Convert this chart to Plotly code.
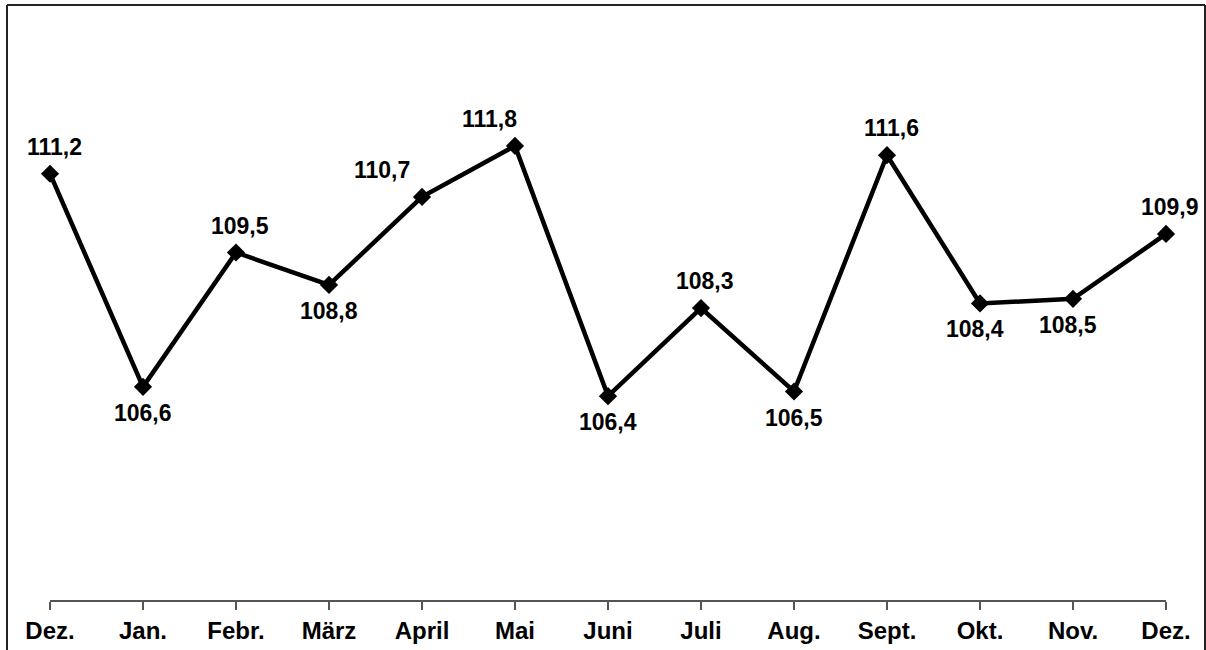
import plotly.graph_objects as go

months = ["Dez.", "Jan.", "Febr.", "März", "April", "Mai", "Juni", "Juli", "Aug.", "Sept.", "Okt.", "Nov.", "Dez."]
values = [111.2, 106.6, 109.5, 108.8, 110.7, 111.8, 106.4, 108.3, 106.5, 111.6, 108.4, 108.5, 109.9]
label_pos = ["top", "bottom", "top", "bottom", "topleft", "topleftish", "bottom", "top", "bottom", "top", "bottomleft", "bottomleft", "top"]

x = list(range(len(months)))

W, H = 1206, 650
ml, mr, mt, mb = 50, 40, 44, 50
pw, ph = W - ml - mr, H - mt - mb

fig = go.Figure()
fig.add_trace(go.Scatter(
    x=x, y=values, mode="lines+markers",
    line=dict(color="black", width=4.5),
    marker=dict(symbol="diamond", size=14, color="black"),
    hoverinfo="skip", showlegend=False, cliponaxis=False,
))

shifts = {
    "top": (4, 27),
    "bottom": (0, -26),
    "bottomleft": (-5, -26),
    "topleft": (-40, 27),
    "topleftish": (-26, 27),
}
for xi, v, p in zip(x, values, label_pos):
    dx, dy = shifts[p]
    fig.add_annotation(
        x=xi, y=v, text=f"{v:.1f}".replace(".", ","), showarrow=False,
        xshift=dx, yshift=dy,
        font=dict(family="Liberation Sans, Arial", size=23, color="black", weight="bold"),
    )

# figure frame: left, top, right edges
bx0, bx1 = (7 - ml) / pw, (1205 - ml) / pw
by0, by1 = (H - mb - 700) / ph, (H - mb - 5) / ph
for (a, b, c, d) in [(bx0, by0, bx0, by1), (bx0, by1, bx1, by1), (bx1, by1, bx1, by0)]:
    fig.add_shape(type="line", xref="paper", yref="paper", x0=a, y0=b, x1=c, y1=d,
                  line=dict(color="#222", width=2), layer="above")

fig.update_layout(
    width=W, height=H,
    margin=dict(l=ml, r=mr, t=mt, b=mb, autoexpand=False),
    paper_bgcolor="white", plot_bgcolor="white",
    xaxis=dict(
        range=[0, len(months) - 1], tickmode="array", tickvals=x, ticktext=months,
        showgrid=False, zeroline=False, showline=True, linecolor="#555", linewidth=1.5,
        ticks="outside", ticklen=8, tickcolor="#555", tickwidth=1.5,
        automargin=False,
        tickfont=dict(family="Liberation Sans, Arial", size=24, color="black", weight="bold"),
    ),
    yaxis=dict(range=[102, 114], visible=False, showgrid=False, zeroline=False, automargin=False),
)

fig.write_html("out.html", config={"displayModeBar": False},
               post_script="document.body.style.margin='0';document.body.style.overflow='hidden';")
